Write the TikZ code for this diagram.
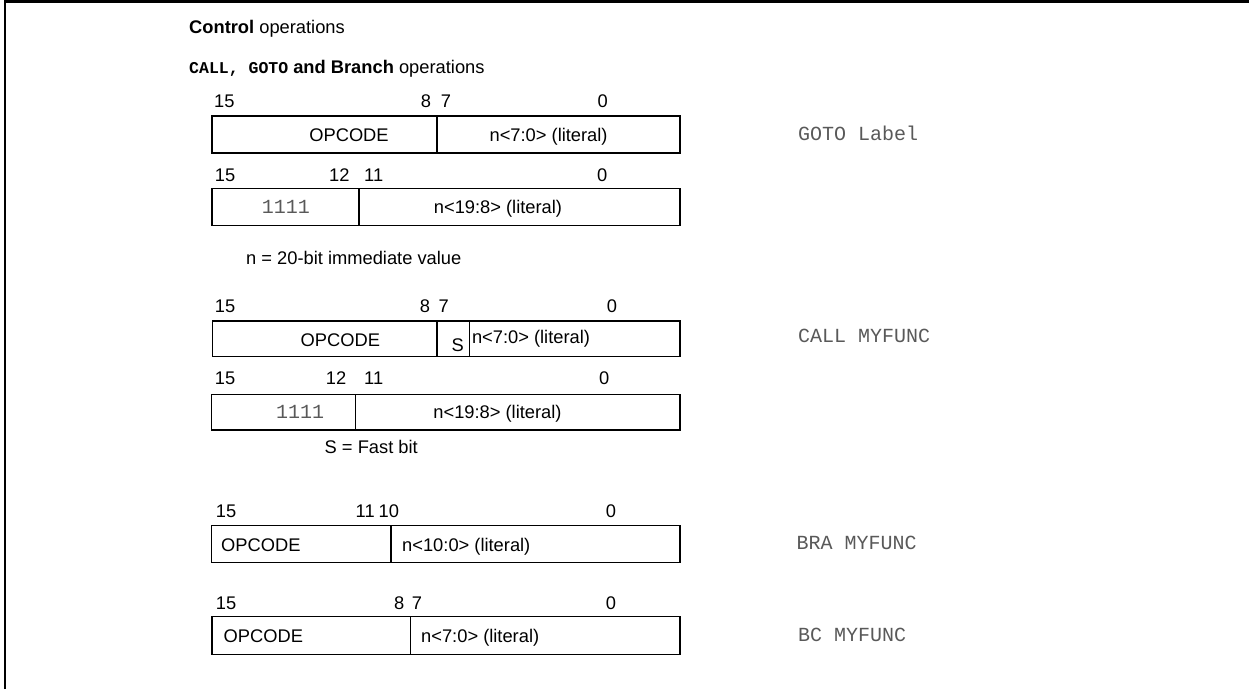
\documentclass[tikz,border=0pt]{standalone}
\usepackage{fontspec}
\setmainfont{Liberation Sans}
\newfontfamily\monof{Liberation Mono}
\begin{document}
\begin{tikzpicture}[x=1pt,y=-1pt,
  sans/.style={inner sep=0pt, anchor=west, font=\fontsize{18.3}{20}\selectfont, text height=13.1pt, text depth=0pt},
  sansc/.style={sans, anchor=center},
  mono/.style={inner sep=0pt, anchor=west, font=\fontsize{20}{22}\monof, text=black!65, text height=11.6pt, text depth=0pt},
  monoc/.style={mono, anchor=center},
  field/.style={draw, line width=1.5pt},
  frame/.style={draw, line width=2.5pt}]
\useasboundingbox (0,0) rectangle (1249,689);
\draw[frame] (5,689) -- (5,1.25) -- (1249,1.25);

% titles
\node[sans] (t1) at (189,27.3) {\textbf{Control} operations};
\node[sans] (t2) at (189,67.3) {{\fontsize{16.5}{18}\monof\bfseries CALL, GOTO} \textbf{and Branch} operations};

% ---- GOTO word 1
\node[sans] (a15) at (214,100.7) {15};
\node[sans] (a8) at (420.7,100.7) {8};
\node[sans] (a7) at (440.7,100.7) {7};
\node[sans] (a0) at (597.3,100.7) {0};
\draw[field] (212,116) rectangle (680,153);
\draw[field] (437,116) -- (437,153);
\node[sansc] (aop) at (349,134.7) {OPCODE};
\node[sansc] (alit) at (548.6,134.7) {n<7:0> (literal)};
\node[mono] (goto) at (798,134.6) {GOTO Label};

% ---- GOTO word 2
\node[sans] (b15) at (214.7,174.5) {15};
\node[sans] (b12) at (329,174.5) {12};
\node[sans] (b11) at (364,174.5) {11};
\node[sans] (b0) at (597,174.5) {0};
\draw[field] (212,188.7) rectangle (680,225.7);
\draw[field] (359,188.7) -- (359,225.7);
\node[monoc] (b1111) at (285.8,207.8) {1111};
\node[sansc] (blit) at (498,207.2) {n<19:8> (literal)};
\node[sans] (nnote) at (246,258.3) {n = 20-bit immediate value};

% ---- CALL word 1
\node[sans] (c15) at (214.7,305.8) {15};
\node[sans] (c8) at (419.7,305.8) {8};
\node[sans] (c7) at (438.3,305.8) {7};
\node[sans] (c0) at (606.7,305.8) {0};
\draw[field] (212.3,321) rectangle (680,356.7);
\draw[field] (437,321) -- (437,356.7);
\draw[field] (469.3,321) -- (469.3,356.7);
\node[sansc] (cop) at (340.3,340) {OPCODE};
\node[sansc] (cs) at (457.7,344.7) {S};
\node[sans] (clit) at (471.8,336.7) {n<7:0> (literal)};
\node[mono] (call) at (798,336.8) {CALL MYFUNC};

% ---- CALL word 2
\node[sans] (d15) at (214.7,377.5) {15};
\node[sans] (d12) at (325.7,377.5) {12};
\node[sans] (d11) at (364,377.5) {11};
\node[sans] (d0) at (599,377.5) {0};
\draw[field] (211.7,394.3) rectangle (680,430);
\draw[field] (355.7,394.3) -- (355.7,430);
\node[monoc] (d1111) at (300,413) {1111};
\node[sansc] (dlit) at (497.5,412.2) {n<19:8> (literal)};
\node[sans] (snote) at (324.5,446.7) {S = Fast bit};

% ---- BRA
\node[sans] (e15) at (215.7,510.7) {15};
\node[sans] (e11) at (355.5,510.7) {11};
\node[sans] (e10) at (378.5,510.7) {10};
\node[sans] (e0) at (605.7,510.7) {0};
\draw[field] (211.7,525.7) rectangle (680,562.3);
\draw[field] (391,525.7) -- (391,562.3);
\node[sans] (eop) at (221,544.5) {OPCODE};
\node[sans] (elit) at (402,544.5) {n<10:0> (literal)};
\node[mono] (bra) at (796.4,544) {BRA MYFUNC};

% ---- BC
\node[sans] (f15) at (215.7,603.3) {15};
\node[sans] (f8) at (394,603.3) {8};
\node[sans] (f7) at (411.7,603.3) {7};
\node[sans] (f0) at (605.7,603.3) {0};
\draw[field] (212,616.7) rectangle (680,654.3);
\draw[field] (410.7,616.7) -- (410.7,654.3);
\node[sans] (fop) at (223.5,635.8) {OPCODE};
\node[sans] (flit) at (421,635.8) {n<7:0> (literal)};
\node[mono] (bc) at (798,635.7) {BC MYFUNC};
\end{tikzpicture}
\end{document}
